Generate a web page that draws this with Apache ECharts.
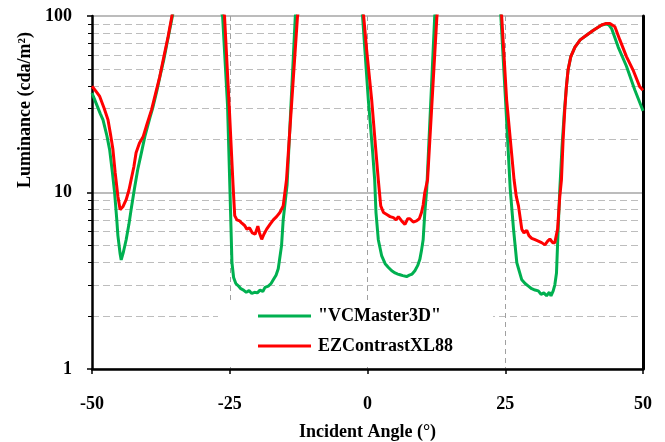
<!DOCTYPE html>
<html>
<head>
<meta charset="utf-8">
<script src="https://cdn.jsdelivr.net/npm/echarts@6/dist/echarts.min.js"></script>
<style>
html,body{margin:0;padding:0;background:#fff;}
#c{width:665px;height:442px;}
</style>
</head>
<body>
<div id="c"></div>
<script>
const seriesNames = ['"VCMaster3D"', 'EZContrastXL88'];
const xTicks = [-50, -25, 0, 25, 50];

const greenX = [-50, -49.5, -48.5, -48, -47.3, -46.8, -46.3, -45.9, -45.5, -45.3, -44.9, -44.7, -44.3, -43.8, -43.3, -42.9, -42.3, -41.7, -41, -40.4, -39.5, -39, -38.2, -37.7, -37, -36.2, -35.4, -35, -31, -27, -26.3, -25.4, -24.95, -24.6, -24.3, -23.9, -23.4, -23, -22.5, -22, -21.5, -21, -20.5, -20, -19.5, -19, -18.6, -18, -17.5, -17.1, -16.6, -16.2, -15.9, -15.6, -15.3, -14.9, -14.6, -13.1, -12.5, -6, -1.2, -0.9, 0.15, 0.9, 1.3, 1.54, 1.96, 2.58, 3.2, 3.8, 4.4, 5, 5.5, 5.9, 6.4, 7.1, 7.6, 8.1, 8.6, 9.1, 9.5, 9.8, 10.1, 10.4, 10.75, 12.2, 12.6, 18, 23.8, 24.2, 25.05, 25.9, 26.5, 27.1, 28.0, 28.6, 29.2, 29.8, 30.4, 31.0, 31.5, 32, 32.5, 33, 33.3, 33.7, 34.0, 34.3, 34.6, 34.9, 35.3, 35.7, 36.1, 36.4, 36.9, 37.65, 38.6, 39.8, 41, 42.5, 43.3, 43.8, 44.3, 45.5, 47.0, 48.5, 49.75, 50];
const greenY = [36.6, 33.5, 28, 25.8, 21, 17.5, 13, 10, 7, 5.7, 4.5, 4.15, 4.6, 5.4, 6.6, 8.0, 10.5, 13.5, 17, 20.8, 26.5, 30, 38, 45, 56, 75, 100, 115, 300, 118, 100, 31, 10, 4.0, 3.3, 3.05, 2.95, 2.85, 2.8, 2.72, 2.78, 2.68, 2.72, 2.7, 2.8, 2.75, 2.9, 2.95, 3.05, 3.2, 3.4, 3.7, 4.3, 5.0, 7.0, 9.1, 11, 100, 120, 300, 120, 100, 33.5, 17.5, 11.8, 7.7, 5.4, 4.37, 3.95, 3.76, 3.6, 3.5, 3.45, 3.42, 3.38, 3.34, 3.4, 3.45, 3.6, 3.85, 4.18, 4.7, 5.4, 7.7, 10.4, 100, 120, 300, 120, 100, 33.5, 10.5, 6.2, 4.0, 3.2, 3.05, 2.95, 2.85, 2.8, 2.77, 2.65, 2.7, 2.6, 2.72, 2.6, 2.77, 3.0, 3.5, 6.2, 10.4, 18, 28, 39.8, 49.4, 58.9, 66.7, 73.2, 78, 83.1, 88.9, 90, 89, 84.9, 66.7, 51.9, 38.2, 30.4, 29];

const redX = [-50, -49.3, -48.6, -47.8, -47.1, -46.6, -46.2, -45.8, -45.3, -44.9, -44.4, -43.8, -43.3, -42.9, -42.4, -42.0, -41.4, -40.7, -40, -39.2, -38.5, -37.7, -37, -36.2, -35.3, -31, -26.6, -25.95, -25.1, -24.4, -24.1, -23.7, -23.2, -22.8, -22.3, -21.9, -21.4, -20.9, -20.4, -19.9, -19.6, -19.2, -18.8, -18.3, -17.7, -17.1, -16.5, -15.9, -15.3, -14.7, -12.7, -12.2, -6, -1.0, -0.7, -0.15, 0.76, 1.5, 1.96, 2.4, 2.9, 3.5, 4.1, 4.7, 5.2, 5.6, 6.2, 6.8, 7.3, 7.7, 8.3, 8.9, 9.4, 9.8, 10.1, 10.4, 10.9, 12.6, 13, 18, 24, 24.35, 25.25, 26.6, 27.0, 27.4, 28.0, 28.4, 28.9, 29.3, 29.8, 30.4, 31.0, 31.6, 32.2, 32.7, 33.1, 33.6, 34.0, 34.5, 34.9, 35.2, 35.5, 35.8, 36.1, 36.4, 36.9, 37.65, 38.6, 39.8, 41, 42.5, 43.2, 44, 44.9, 45.8, 47.0, 48.2, 49.4, 50];
const redY = [40, 37.5, 35, 30, 25.8, 21, 17.5, 13, 9.5, 8.0, 8.3, 9.1, 10.3, 11.8, 14, 16.8, 19, 20.8, 24.5, 29.4, 36, 45.4, 58, 76, 108, 300, 115, 100, 31, 11, 7.4, 7.0, 6.9, 6.7, 6.5, 6.2, 6.3, 5.9, 5.8, 6.45, 5.9, 5.43, 5.8, 6.2, 6.6, 7.0, 7.3, 7.7, 8.4, 11.8, 100, 120, 300, 120, 100, 64, 33.5, 17.5, 11.8, 8.4, 7.7, 7.5, 7.3, 7.2, 7.0, 7.3, 6.9, 6.6, 7.1, 7.1, 6.8, 6.9, 7.1, 7.7, 8.5, 10, 11.8, 100, 120, 300, 120, 100, 33.5, 11.8, 9.5, 8.4, 6.2, 5.9, 6.1, 5.7, 5.5, 5.4, 5.3, 5.2, 5.05, 5.3, 5.45, 5.2, 5.2, 6.2, 9.5, 11.8, 19.9, 29.4, 39.8, 49.4, 58.9, 66.7, 73.2, 78, 83.1, 88.9, 90.6, 90.6, 86.9, 73.2, 58.9, 49.4, 39.8, 38];

const zip = (xs, ys) => xs.map((x, i) => [x, ys[i]]);
const serif = '"Liberation Serif", "Times New Roman", serif';

const chart = echarts.init(document.getElementById('c'), null, {renderer: 'canvas'});
chart.setOption({
  animation: false,
  backgroundColor: '#ffffff',
  grid: {left: 92, right: 22, top: 16, bottom: 73, containLabel: false, outerBoundsMode: 'none'},
  xAxis: {
    type: 'value', min: -50, max: 50, interval: 25,
    name: 'Incident Angle (°)', nameLocation: 'middle', nameGap: 54,
    nameTextStyle: {fontFamily: serif, fontWeight: 'bold', fontSize: 18, color: '#000'},
    axisLine: {show: true, onZero: false, lineStyle: {color: '#000', width: 2.5}},
    axisTick: {show: true, length: 5, lineStyle: {color: '#000', width: 1.5}},
    axisLabel: {margin: 26, fontFamily: serif, fontWeight: 'bold', fontSize: 18, color: '#000',
      formatter: v => String(v)},
    splitLine: {show: true, lineStyle: {color: '#a0a0a0', type: [5, 4], width: 1}}
  },
  yAxis: [{
    type: 'log', logBase: 10, min: 1, max: 100,
    axisLine: {show: true, onZero: false, lineStyle: {color: '#000', width: 2.5}},
    axisTick: {show: true, length: 5, lineStyle: {color: '#000', width: 1.5}},
    minorTick: {show: true, splitNumber: 9, length: 4, lineStyle: {color: '#000', width: 1}},
    axisLabel: {margin: 20, fontFamily: serif, fontWeight: 'bold', fontSize: 18, color: '#000'},
    splitLine: {show: true, lineStyle: {color: '#a6a6a6', width: 1.5}},
    minorSplitLine: {show: true, lineStyle: {color: '#bdbdbd', type: [7, 4], width: 1}}
  }, {
    type: 'value', position: 'right',
    axisLine: {show: true, onZero: false, lineStyle: {color: '#000', width: 3}},
    axisTick: {show: false}, axisLabel: {show: false}, splitLine: {show: false}
  }],
  legend: {
    orient: 'vertical', left: 218, top: 300,
    backgroundColor: '#ffffff',
    padding: [7, 40, 10, 40],
    itemWidth: 53, itemHeight: 3, itemGap: 12, icon: 'rect',
    selectedMode: false,
    textStyle: {fontFamily: serif, fontWeight: 'bold', fontSize: 18, color: '#000', lineHeight: 18, padding: [0, 0, 0, 2]},
    data: seriesNames
  },
  graphic: [{
    type: 'text', x: 25, y: 110, rotation: Math.PI / 2,
    style: {text: 'Luminance (cda/m²)', font: 'bold 18px ' + serif, fill: '#000',
      textAlign: 'center', textVerticalAlign: 'middle', align: 'center', verticalAlign: 'middle'}
  }],
  series: [{
    name: seriesNames[0], type: 'line', data: zip(greenX, greenY),
    showSymbol: false, symbol: 'none', clip: true,
    lineStyle: {color: '#00b050', width: 3}, itemStyle: {color: '#00b050'}
  }, {
    name: seriesNames[1], type: 'line', data: zip(redX, redY),
    showSymbol: false, symbol: 'none', clip: true,
    lineStyle: {color: '#ff0000', width: 3}, itemStyle: {color: '#ff0000'}
  }]
});
</script>
</body>
</html>
